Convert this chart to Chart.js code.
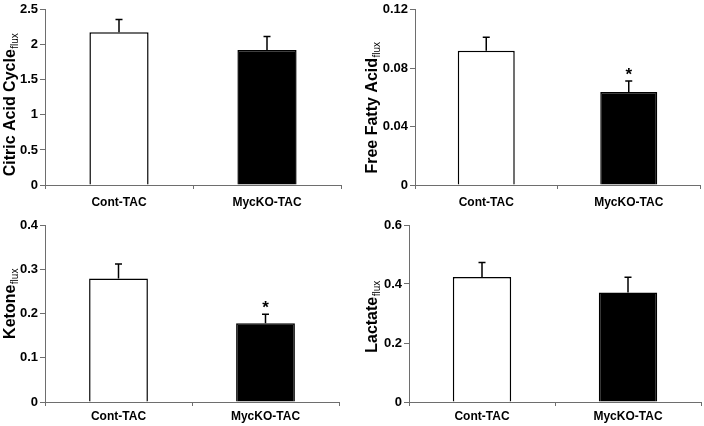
<!DOCTYPE html>
<html>
<head>
<meta charset="utf-8">
<script src="https://cdn.jsdelivr.net/npm/chart.js@4/dist/chart.umd.min.js"></script>
<style>
    body { margin: 0; background: #fff; }
    #wrap { position: relative; width: 704px; height: 426px; }
    .panel { position: absolute; width: 352px; height: 213px; }
</style>
</head>
<body>
<div id="wrap">
    <div class="panel" style="left:0;top:0"><canvas id="c1"></canvas></div>
    <div class="panel" style="left:352px;top:0"><canvas id="c2"></canvas></div>
    <div class="panel" style="left:0;top:213px"><canvas id="c3"></canvas></div>
    <div class="panel" style="left:352px;top:213px"><canvas id="c4"></canvas></div>
</div>
<script>
const categories = ['Cont-TAC', 'MycKO-TAC'];

const citricValues = [2.18, 1.925];
const citricErrors = [0.18, 0.195];
const citricTicks = [0, 0.5, 1, 1.5, 2, 2.5];
const citricTickLabels = ['0', '0.5', '1', '1.5', '2', '2.5'];

const ffaValues = [0.092, 0.0637];
const ffaErrors = [0.0092, 0.0075];
const ffaStars = ['', '*'];
const ffaTicks = [0, 0.04, 0.08, 0.12];
const ffaTickLabels = ['0', '0.04', '0.08', '0.12'];

const ketoneValues = [0.279, 0.178];
const ketoneErrors = [0.033, 0.0205];
const ketoneStars = ['', '*'];
const ketoneTicks = [0, 0.1, 0.2, 0.3, 0.4];
const ketoneTickLabels = ['0', '0.1', '0.2', '0.3', '0.4'];

const lactateValues = [0.424, 0.371];
const lactateErrors = [0.049, 0.052];
const lactateTicks = [0, 0.2, 0.4, 0.6];
const lactateTickLabels = ['0', '0.2', '0.4', '0.6'];

const FONT = '"Liberation Sans", Arial, sans-serif';
const AXIS_COLOR = '#6e6e6e';

// error bars (up only, Excel style) + significance stars
const errorBarPlugin = {
    id: 'errorBars',
    afterDatasetsDraw(chart) {
        const opts = chart.options.plugins.errorBars;
        const meta = chart.getDatasetMeta(0);
        const y = chart.scales.y;
        const ctx = chart.ctx;
        ctx.save();
        ctx.strokeStyle = '#000';
        ctx.lineWidth = 1.5;
        meta.data.forEach((bar, i) => {
            const v = chart.data.datasets[0].data[i];
            const top = y.getPixelForValue(v + opts.errors[i]);
            ctx.beginPath();
            ctx.moveTo(bar.x, bar.y);
            ctx.lineTo(bar.x, top);
            ctx.moveTo(bar.x - 3.5, top);
            ctx.lineTo(bar.x + 3.5, top);
            ctx.stroke();
            if (opts.stars && opts.stars[i]) {
                ctx.fillStyle = '#000';
                ctx.font = 'bold 17px ' + FONT;
                ctx.textAlign = 'center';
                ctx.textBaseline = 'alphabetic';
                ctx.fillText(opts.stars[i], bar.x, top - 1);
            }
        });
        ctx.restore();
    }
};

// rotated y title with "flux" subscript
const yTitlePlugin = {
    id: 'yTitle',
    afterDraw(chart) {
        const o = chart.options.plugins.yTitle;
        const ctx = chart.ctx;
        ctx.save();
        ctx.translate(o.x, o.y);
        ctx.rotate(-Math.PI / 2);
        ctx.fillStyle = '#000';
        ctx.textBaseline = 'alphabetic';
        ctx.textAlign = 'left';
        const mainFont = 'bold ' + o.size + 'px ' + FONT;
        const subFont = Math.round(o.size * 0.6) + 'px ' + FONT;
        ctx.font = mainFont;
        const w1 = ctx.measureText(o.text).width;
        ctx.font = subFont;
        const w2 = ctx.measureText('flux').width;
        const start = -(w1 + w2) / 2;
        const base = o.size * 0.36;
        ctx.font = mainFont;
        ctx.fillText(o.text, start, base);
        ctx.font = subFont;
        ctx.fillText('flux', start + w1 + 0.5, base + o.size * 0.22);
        ctx.restore();
    }
};

function makePanel(id, cfg) {
    new Chart(document.getElementById(id), {
        type: 'bar',
        data: {
            labels: categories,
            datasets: [{
                data: cfg.values,
                backgroundColor: ['#ffffff', '#000000'],
                borderColor: '#000000',
                borderWidth: 1.5,
                borderSkipped: 'bottom',
                barPercentage: 0.4,
                categoryPercentage: 1
            }]
        },
        options: {
            responsive: true,
            maintainAspectRatio: false,
            animation: false,
            layout: { padding: { top: cfg.top, right: cfg.right, left: 0, bottom: 0 } },
            scales: {
                x: {
                    offset: true,
                    afterFit: s => { s.height = cfg.xHeight; },
                    border: { display: true, color: AXIS_COLOR, width: 1 },
                    grid: {
                        offset: true,
                        drawOnChartArea: false,
                        drawTicks: true,
                        tickLength: 4,
                        color: AXIS_COLOR
                    },
                    ticks: {
                        color: '#000',
                        padding: cfg.xPad,
                        font: { family: FONT, size: 12, weight: 'bold' }
                    }
                },
                y: {
                    min: cfg.ticks[0],
                    max: cfg.ticks[cfg.ticks.length - 1],
                    afterFit: s => { s.width = cfg.yWidth; },
                    afterBuildTicks: s => { s.ticks = cfg.ticks.map(v => ({ value: v })); },
                    border: { display: true, color: AXIS_COLOR, width: 1 },
                    grid: {
                        drawOnChartArea: false,
                        drawTicks: true,
                        tickLength: 5,
                        color: AXIS_COLOR
                    },
                    ticks: {
                        color: '#000',
                        padding: 2,
                        font: { family: FONT, size: 13, weight: 'bold' },
                        callback: (v, i) => cfg.tickLabels[i]
                    }
                }
            },
            plugins: {
                legend: { display: false },
                tooltip: { enabled: false },
                errorBars: { errors: cfg.errors, stars: cfg.stars },
                yTitle: { text: cfg.title, x: cfg.titleX, y: cfg.titleY, size: cfg.titleSize }
            }
        },
        plugins: [errorBarPlugin, yTitlePlugin]
    });
}

makePanel('c1', {
    values: citricValues, errors: citricErrors, ticks: citricTicks, tickLabels: citricTickLabels,
    title: 'Citric Acid Cycle', titleX: 9, titleY: 105, titleSize: 16,
    yWidth: 45, top: 8, right: 11, xHeight: 28, xPad: 6
});
makePanel('c2', {
    values: ffaValues, errors: ffaErrors, stars: ffaStars, ticks: ffaTicks, tickLabels: ffaTickLabels,
    title: 'Free Fatty Acid', titleX: 19, titleY: 108, titleSize: 16,
    yWidth: 63, top: 8, right: 4, xHeight: 28, xPad: 6
});
makePanel('c3', {
    values: ketoneValues, errors: ketoneErrors, stars: ketoneStars, ticks: ketoneTicks, tickLabels: ketoneTickLabels,
    title: 'Ketone', titleX: 9, titleY: 91, titleSize: 16,
    yWidth: 45, top: 12, right: 13, xHeight: 24, xPad: 3
});
makePanel('c4', {
    values: lactateValues, errors: lactateErrors, ticks: lactateTicks, tickLabels: lactateTickLabels,
    title: 'Lactate', titleX: 19, titleY: 104, titleSize: 16,
    yWidth: 57, top: 12, right: 3, xHeight: 24, xPad: 3
});
</script>
</body>
</html>
